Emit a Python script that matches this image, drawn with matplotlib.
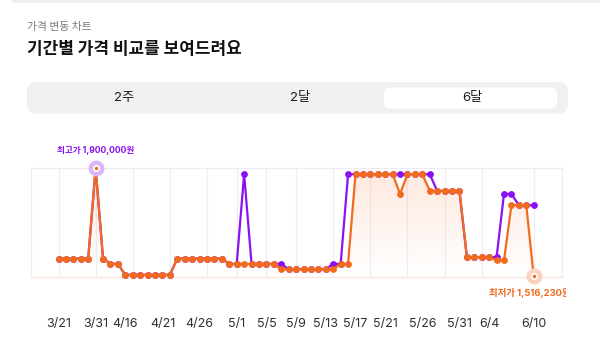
import matplotlib
matplotlib.use("Agg")
import matplotlib.pyplot as plt
import numpy as np
from matplotlib.patches import FancyBboxPatch, Rectangle
from matplotlib.transforms import Bbox, TransformedBbox

plt.rcParams['font.family'] = ['Inter', 'Noto Sans CJK KR', 'DejaVu Sans']

# price per data point (65 entries), index on x
lowest_price = [
    1580000, 1580000, 1580000, 1580000, 1580000, 1900000, 1580000, 1561000,
    1561000, 1522000, 1522000, 1522000, 1522000, 1522000, 1522000, 1522000,
    1580000, 1580000, 1580000, 1580000, 1580000, 1580000, 1580000, 1561000,
    1561000, 1561000, 1561000, 1561000, 1561000, 1561000, 1542000, 1542000,
    1542000, 1542000, 1542000, 1542000, 1542000, 1542000, 1561000, 1561000,
    1879000, 1879000, 1879000, 1879000, 1879000, 1879000, 1809000, 1879000,
    1879000, 1879000, 1820000, 1820000, 1820000, 1820000, 1820000, 1585000,
    1585000, 1585000, 1585000, 1573000, 1573000, 1769000, 1769000, 1769000,
    1516230,
]
other_price = [
    1580000, 1580000, 1580000, 1580000, 1580000, 1900000, 1580000, 1561000,
    1561000, 1522000, 1522000, 1522000, 1522000, 1522000, 1522000, 1522000,
    1580000, 1580000, 1580000, 1580000, 1580000, 1580000, 1580000, 1561000,
    1561000, 1879000, 1561000, 1561000, 1561000, 1561000, 1561000, 1542000,
    1542000, 1542000, 1542000, 1542000, 1542000, 1561000, 1561000, 1879000,
    1879000, 1879000, 1879000, 1879000, 1879000, 1879000, 1879000, 1879000,
    1879000, 1879000, 1879000, 1820000, 1820000, 1820000, 1820000, 1585000,
    1585000, 1585000, 1585000, 1585000, 1809000, 1809000, 1769000, 1769000,
    1769000,
]
date_idx = [0, 5, 9, 14, 19, 24, 28, 32, 36, 40, 44, 49, 54, 58, 64]
date_labels = ['3/21', '3/31', '4/16', '4/21', '4/26', '5/1', '5/5', '5/9',
               '5/13', '5/17', '5/21', '5/26', '5/31', '6/4', '6/10']
grid_idx = [0, 5, 10, 15, 20, 24, 28, 32, 37, 42, 47, 52, 57, 64]
tabs = ['2주', '2달', '6달']

orange = '#F26A1E'
purple = '#8A12F2'

fig = plt.figure(figsize=(6, 3.57), dpi=100)
W, H = 600, 357


def fx(px):
    return px / W


def fy(py):
    return 1 - py / H


# top strip
fig.patches.append(Rectangle((fx(12), fy(2.5)), fx(588), 2.5 / H,
                             transform=fig.transFigure, color='#F1F1F1', lw=0))

fig.text(fx(27.5), fy(27), '가격 변동 차트', fontsize=7.8, color='#7A7A7A',
         va='center', ha='left', family=['Noto Sans CJK KR'])
fig.text(fx(27), fy(49), '기간별 가격 비교를 보여드려요', fontsize=12.2, color='#111111',
         va='center', ha='left', fontweight='bold', family=['Noto Sans CJK KR'])

# tab bar
bar = FancyBboxPatch((fx(27), fy(113.5)), fx(541), 31.5 / H,
                     boxstyle='round,pad=0,rounding_size=0.016',
                     transform=fig.transFigure, fc='#F0F0F0', ec='none',
                     mutation_aspect=W / H)
fig.patches.append(bar)
sel = FancyBboxPatch((fx(384), fy(108.5)), fx(173), 21 / H,
                     boxstyle='round,pad=0,rounding_size=0.011',
                     transform=fig.transFigure, fc='white', ec='none',
                     mutation_aspect=W / H)
fig.patches.append(sel)
for name, cx in zip(tabs, [124, 300, 472]):
    fig.text(fx(cx), fy(98), name, fontsize=9.5, color='#1E1E1E',
             ha='center', va='center', family=['Inter', 'Noto Sans CJK KR'])

# chart
ax = fig.add_axes([fx(31.3), fy(276.5), fx(562 - 31.3), (276.5 - 168.3) / H])
x = np.arange(len(lowest_price))
ymin, ymax = min(lowest_price), max(lowest_price)
px_per_idx = (533.7 - 58.5) / 64
ax.set_xlim(-(58.5 - 31.3) / px_per_idx, 64 + (562 - 533.7) / px_per_idx)
ax.set_ylim(ymin, ymax)

for g in grid_idx:
    ax.axvline(g, color='#F0EDF5', lw=0.9, zorder=0)

# gradient fill under orange line
poly = ax.fill_between(x, lowest_price, ymin, color='none', lw=0)
grad = np.zeros((256, 1, 4))
grad[:, 0, 0] = 0.98
grad[:, 0, 1] = 0.50
grad[:, 0, 2] = 0.25
grad[:, 0, 3] = np.linspace(0.18, 0.0, 256)
im = ax.imshow(grad, extent=[0, 64, ymin, ymax], aspect='auto', origin='upper',
               zorder=1)
im.set_clip_path(poly.get_paths()[0], transform=ax.transData)

ax.plot(x, other_price, color=purple, lw=1.6, marker='o', ms=3.9, zorder=3,
        clip_on=False)
ax.plot(x, lowest_price, color=orange, lw=1.6, marker='o', ms=3.9, zorder=4,
        clip_on=False)

imax = int(np.argmax(lowest_price))
imin = int(np.argmin(lowest_price))
ax.plot(imax, ymax, 'o', ms=11.5, color='#DDB6F8', mec='none', zorder=5, clip_on=False)
ax.plot(imax, ymax, 'o', ms=3.8, color=orange, mec='white', mew=1.3, zorder=6, clip_on=False)
ax.plot(imin, ymin, 'o', ms=11.5, color='#FAD2BE', mec='none', zorder=5, clip_on=False)
ax.plot(imin, ymin, 'o', ms=3.8, color=orange, mec='white', mew=1.3, zorder=6, clip_on=False)

ax.annotate(f'최고가 {ymax:,}원', (imax, ymax), xytext=(0, 13), textcoords='offset points',
            ha='center', va='center', fontsize=6.2, color=purple,
            family=['Inter', 'Noto Sans CJK KR'], fontweight='bold')
t = ax.annotate(f'최저가 {ymin:,}원', (imin, ymin), xytext=(-2.5, -12), textcoords='offset points',
                ha='center', va='center', fontsize=6.8, color=orange,
                family=['Inter', 'Noto Sans CJK KR'], fontweight='bold',
                annotation_clip=False)
t.set_clip_box(TransformedBbox(Bbox([[0, 0], [566 / W, 1]]), fig.transFigure))
t.set_clip_on(True)

ax.set_yticks([])
ax.set_xticks(date_idx, date_labels)
ax.tick_params(axis='x', length=0, pad=30, labelsize=9, labelcolor='#2E2E2E')
for side in ['left', 'right', 'top']:
    ax.spines[side].set_color('#EFEBF6')
    ax.spines[side].set_linewidth(0.8)
ax.spines['bottom'].set_color('#FBE4DA')
ax.spines['bottom'].set_linewidth(0.8)

fig.savefig('out.png', dpi=100)
